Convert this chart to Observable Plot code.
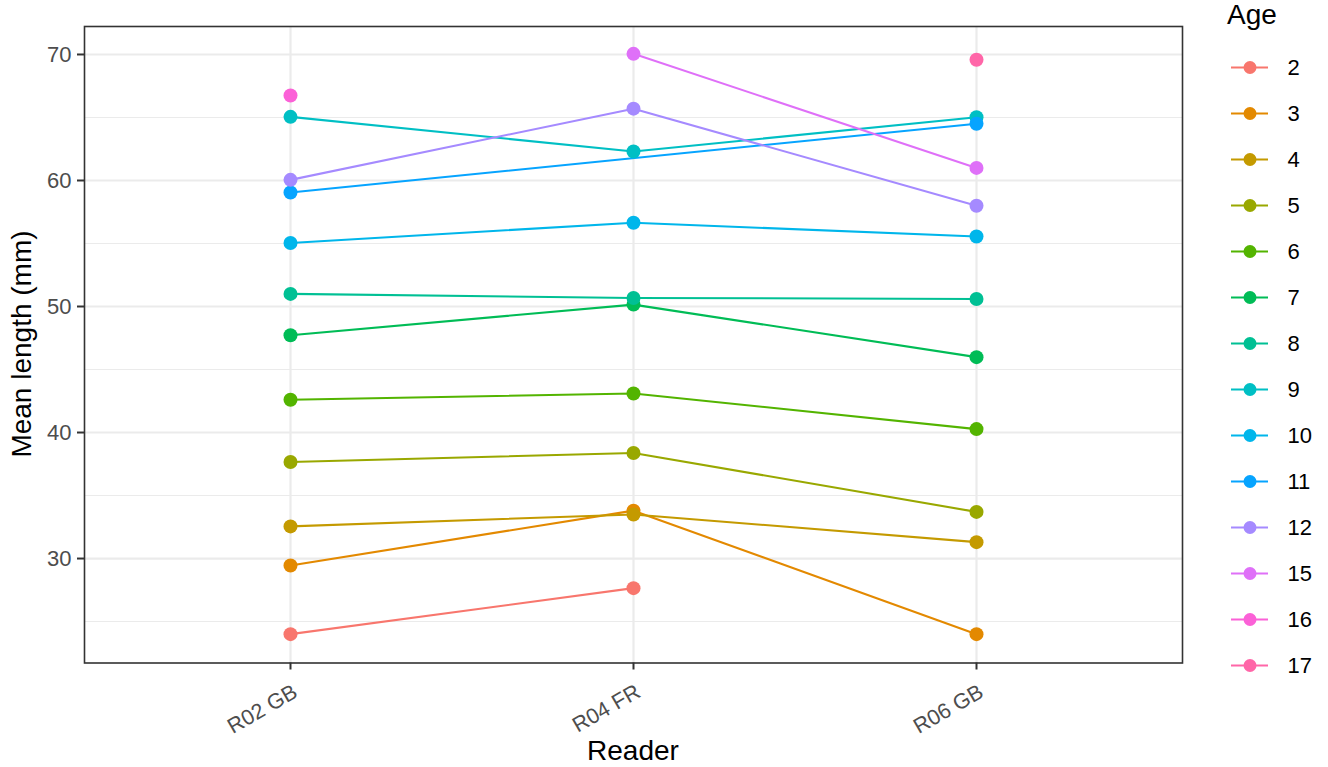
<!DOCTYPE html>
<html>
<head>
<meta charset="utf-8">
<script src="https://cdn.jsdelivr.net/npm/d3@7"></script>
<script src="https://cdn.jsdelivr.net/npm/@observablehq/plot@0.6"></script>
<style>
  html, body { margin: 0; padding: 0; background: #fff; }
  #wrap { position: relative; width: 1328px; height: 767px; overflow: hidden; font-family: "Liberation Sans", Arial, sans-serif; }
  #wrap svg { position: absolute; top: 0; }
  .title { position: absolute; color: #000; white-space: nowrap; font-size: 28px; }
</style>
</head>
<body>
<div id="wrap"></div>
<script>
// ---- data ----
const readers = ["R02 GB", "R04 FR", "R06 GB"];
const ages = ["2", "3", "4", "5", "6", "7", "8", "9", "10", "11", "12", "15", "16", "17"];
const ageColors = ["#F8766D", "#E38900", "#C49A00", "#99A800", "#53B400", "#00BC56", "#00C094",
                   "#00BFC4", "#00B6EB", "#06A4FF", "#A58AFF", "#DF70F8", "#FB61D7", "#FF66A8"];
// mean length (mm) per age, one array per reader (null = no value)
const lenR02 = [24.0, 29.45, 32.55, 37.66, 42.6, 47.72, 51.0, 65.05, 55.04, 59.05, 60.05, null, 66.75, null];
const lenR04 = [27.65, 33.8, 33.5, 38.38, 43.1, 50.15, 50.68, 62.3, 56.65, null, 65.7, 70.05, null, null];
const lenR06 = [null, 24.0, 31.3, 33.7, 40.27, 45.98, 50.6, 65.02, 55.55, 64.5, 58.0, 61.0, null, 69.58];
const yTicks = [30, 40, 50, 60, 70];
const yMinor = [25, 35, 45, 55, 65];

const byReader = [lenR02, lenR04, lenR06];
const rows = [];
ages.forEach((age, i) => {
  readers.forEach((r, j) => {
    const v = byReader[j][i];
    if (v != null) rows.push({age, reader: r, len: v});
  });
});

const colorScale = {type: "ordinal", domain: ages, range: ageColors};
const font = "Liberation Sans, Arial, sans-serif";

const chart = Plot.plot({
  width: 1328,
  height: 767,
  marginLeft: 84,
  marginRight: 146,
  marginTop: 26,
  marginBottom: 104.5,
  style: {fontFamily: font, background: "transparent"},
  x: {type: "point", domain: readers, padding: 0.6},
  y: {domain: [21.71, 72.22]},
  color: colorScale,
  marks: [
    Plot.gridY(yMinor, {stroke: "#EBEBEB", strokeOpacity: 1, strokeWidth: 1.1}),
    Plot.gridY(yTicks, {stroke: "#EBEBEB", strokeOpacity: 1, strokeWidth: 2.2}),
    Plot.gridX(readers, {stroke: "#EBEBEB", strokeOpacity: 1, strokeWidth: 2.2}),
    Plot.line(rows, {x: "reader", y: "len", z: "age", stroke: "age", strokeWidth: 2.1}),
    Plot.dot(rows, {x: "reader", y: "len", fill: "age", r: 7}),
    Plot.frame({stroke: "#333333", strokeWidth: 1.6}),
    Plot.axisY(yTicks, {tickSize: 7, tickPadding: 6, fontSize: 22, color: "#4D4D4D", stroke: "#333333", strokeWidth: 2, label: null}),
    Plot.axisX(readers, {tickSize: 7, tickFormat: () => "", stroke: "#333333", strokeWidth: 2, label: null}),
    Plot.axisX(readers, {tickSize: 0, tickPadding: 27, dx: 5, tickRotate: -30, fontSize: 21.5, color: "#4D4D4D", label: null})
  ]
});
chart.style.left = "0px";
document.getElementById("wrap").appendChild(chart);

// legend
const legend = Plot.plot({
  width: 140,
  height: 767,
  margin: 0,
  style: {fontFamily: font, background: "transparent"},
  x: {domain: [0, 1], range: [43, 80], axis: null},
  y: {type: "point", domain: ages, range: [66, 666], padding: 0, axis: null},
  color: colorScale,
  marks: [
    Plot.ruleY(ages, {y: d => d, x1: 0, x2: 1, stroke: d => d, strokeWidth: 2.1}),
    Plot.dot(ages, {x: 0.5, y: d => d, fill: d => d, r: 6.5}),
    Plot.text(ages, {x: 1, y: d => d, text: d => d, dx: 19, textAnchor: "start", fontSize: 22, fill: "#000"})
  ]
});
legend.style.left = "1188px";
document.getElementById("wrap").appendChild(legend);

// titles
const wrap = document.getElementById("wrap");
const t1 = document.createElement("div");
t1.className = "title"; t1.textContent = "Age";
t1.style.left = "1227px"; t1.style.top = "1px"; t1.style.fontSize = "28px"; t1.style.lineHeight = "28px";
wrap.appendChild(t1);

const xt = document.createElement("div");
xt.className = "title"; xt.textContent = "Reader";
xt.style.left = "633px"; xt.style.top = "737px"; xt.style.transform = "translateX(-50%)"; xt.style.lineHeight = "28px";
wrap.appendChild(xt);

const yt = document.createElement("div");
yt.className = "title"; yt.textContent = "Mean length (mm)";
yt.style.left = "22px"; yt.style.top = "344px"; yt.style.lineHeight = "28px";
yt.style.transform = "translate(-50%, -50%) rotate(-90deg)";
wrap.appendChild(yt);
</script>
</body>
</html>
